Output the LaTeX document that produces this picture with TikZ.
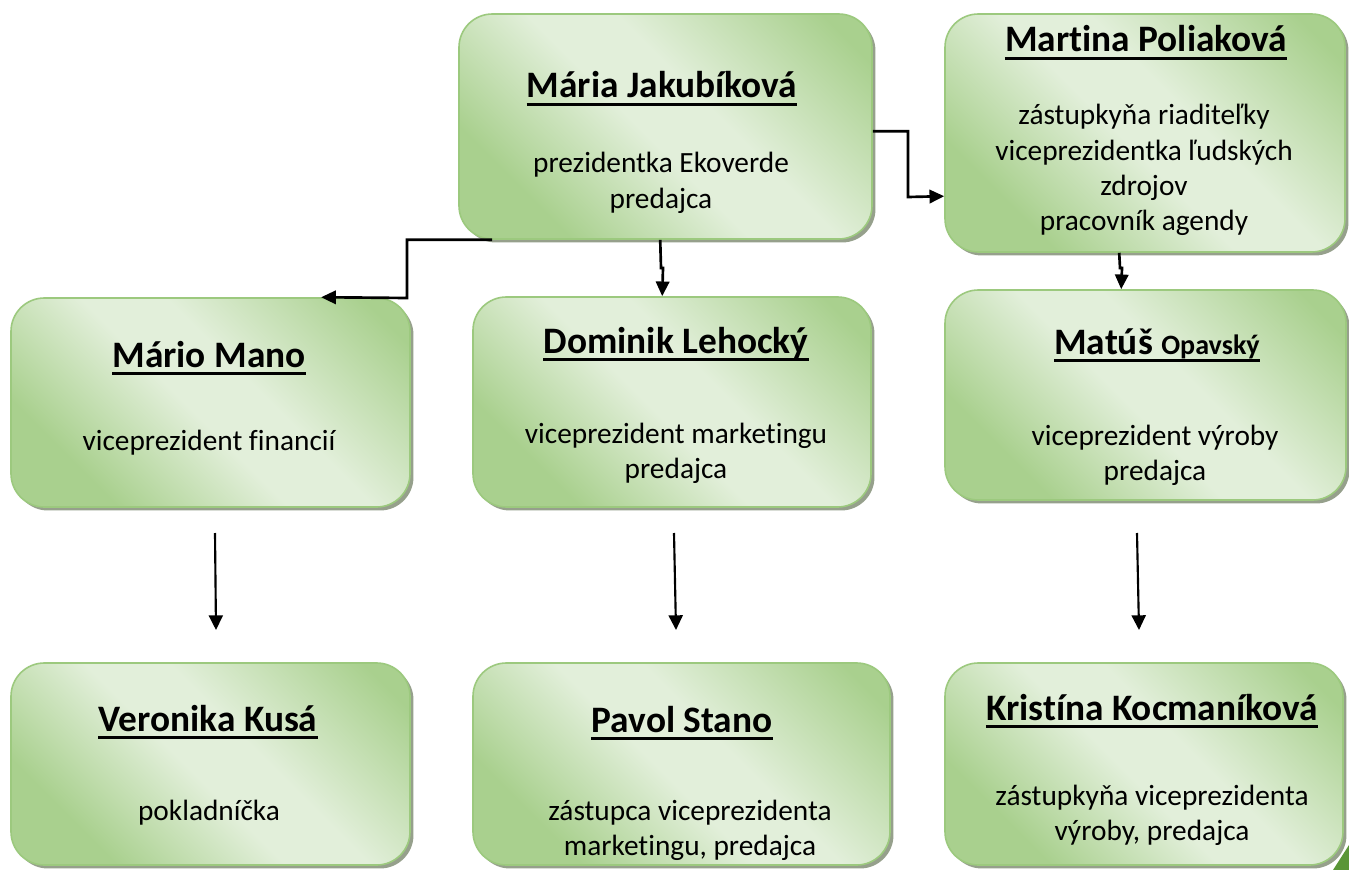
\documentclass[tikz,border=0pt]{standalone}
\usepackage{fontspec}
\setmainfont{Carlito}[Ligatures={NoCommon}]
\usetikzlibrary{arrows.meta,shadows,calc}
\definecolor{gdark}{RGB}{169,208,142}
\definecolor{glight}{RGB}{226,239,218}
\definecolor{bdr}{RGB}{156,201,126}
\definecolor{shd}{RGB}{150,160,140}
\definecolor{leaf}{RGB}{90,150,55}
\pgfdeclareverticalshading{orgshade}{100bp}{color(0bp)=(gdark); color(27bp)=(gdark); color(47bp)=(glight); color(57bp)=(glight); color(80bp)=(gdark); color(100bp)=(gdark)}
\tikzset{
  box/.style={draw=bdr, line width=1.2pt, rounded corners=25pt, shading=orgshade, shading angle=-45,
    drop shadow={shadow xshift=2.6pt, shadow yshift=-2.6pt, fill=shd, opacity=1}, inner sep=0pt},
  namelbl/.style={anchor=base, inner sep=0pt, font=\fontsize{28}{32}\selectfont\bfseries},
  bodylbl/.style={anchor=base, inner sep=0pt, font=\fontsize{22}{26.5}\selectfont},
  uline/.style={line width=2pt},
  conn/.style={line width=2pt, -{Triangle[length=11pt,width=10pt]}},
  lconn/.style={line width=1.6pt, -{Triangle[length=11pt,width=10.5pt]}}
}
\newcommand{\ctr}[1]{\begin{tabular}[t]{@{}c@{}}#1\end{tabular}}
\begin{document}
\begin{tikzpicture}[x=0.75pt,y=-0.75pt]
\fill[white] (0,0) rectangle (1349,870);
\useasboundingbox (0,0) rectangle (1349,870);

% boxes
\node[box, minimum width=309.75pt, minimum height=168.75pt] (A) at (665.5,126.5) {};
\node[box, minimum width=300pt, minimum height=178.5pt] (B) at (1145,133) {};
\node[box, minimum width=299.25pt, minimum height=156.75pt] (C) at (210.5,402.5) {};
\node[box, minimum width=298.5pt, minimum height=157.5pt] (D) at (672,402) {};
\node[box, minimum width=300.75pt, minimum height=157.5pt] (E) at (1145.5,395) {};
\node[box, minimum width=299.25pt, minimum height=151.5pt] (F) at (210.5,764) {};
\node[box, minimum width=312.75pt, minimum height=151.5pt] (G) at (681.5,764) {};
\node[box, minimum width=298.5pt, minimum height=151.5pt] (H) at (1144,764) {};

% names
\node[namelbl] (nA) at (662,98) {Mária Jakubíková};
\node[namelbl] (nB) at (1146,52) {Martina Poliaková};
\node[namelbl] (nC) at (209,367) {Mário Mano};
\node[namelbl] (nD) at (676,353) {Dominik Lehocký};
\node[namelbl] (nE) at (1157,354) {Matúš {\fontsize{21}{24}\selectfont Opavský}};
\node[namelbl] (nF) at (208,731) {Veronika Kusá};
\node[namelbl] (nG) at (682,732) {Pavol Stano};
\node[namelbl] (nH) at (1152,720) {Kristína Kocmaníková};
\foreach \n in {nA,nB,nC,nD,nE,nF,nG,nH}
  \draw[uline] ([yshift=-4.9pt]\n.base west) -- ([yshift=-4.9pt]\n.base east);

% bodies
\node[bodylbl] (bA) at (661,173) {\ctr{prezidentka Ekoverde\\predajca}};
\node[bodylbl] (bB) at (1144,125) {\ctr{zástupkyňa riaditeľky\\viceprezidentka ľudských\\zdrojov\\pracovník agendy}};
\node[bodylbl] (bC) at (209,450) {\ctr{viceprezident financií}};
\node[bodylbl] (bD) at (676,443) {\ctr{viceprezident marketingu\\predajca}};
\node[bodylbl] (bE) at (1155,445) {\ctr{viceprezident výroby\\predajca}};
\node[bodylbl] (bF) at (209,820) {\ctr{pokladníčka}};
\node[bodylbl] (bG) at (690,820) {\ctr{zástupca viceprezidenta\\marketingu, predajca}};
\node[bodylbl] (bH) at (1152,805) {\ctr{zástupkyňa viceprezidenta\\výroby, predajca}};

% elbow connectors
\draw[conn] ($(A.south west)+(34,0)$) -| (407,298) -- ($(C.north west)+(311,0)$);
\draw[conn] ($(A.south west)+(202,0)$) -- (661,268) -- (663,268) -- ($(D.north west)+(190,0)$);
\draw[conn] ($(A.north east)+(0,118)$) -| (908,197) -- ($(B.north west)+(0,183)$);
\draw[conn] ($(B.south west)+(175,0)$) -- (1120,268) -- (1122,268) -- ($(E.north west)+(177,0)$);

% free arrows
\coordinate (s1) at (215,533); \coordinate (e1) at (216,630);
\coordinate (s2) at (674,533); \coordinate (e2) at (676,630);
\coordinate (s3) at (1137,533); \coordinate (e3) at (1139,630);
\draw[lconn] (s1) -- (e1);
\draw[lconn] (s2) -- (e2);
\draw[lconn] (s3) -- (e3);

% corner leaf fragment
\fill[leaf] (1333,870) -- (1349,845) -- (1349,870) -- cycle;
\end{tikzpicture}
\end{document}
